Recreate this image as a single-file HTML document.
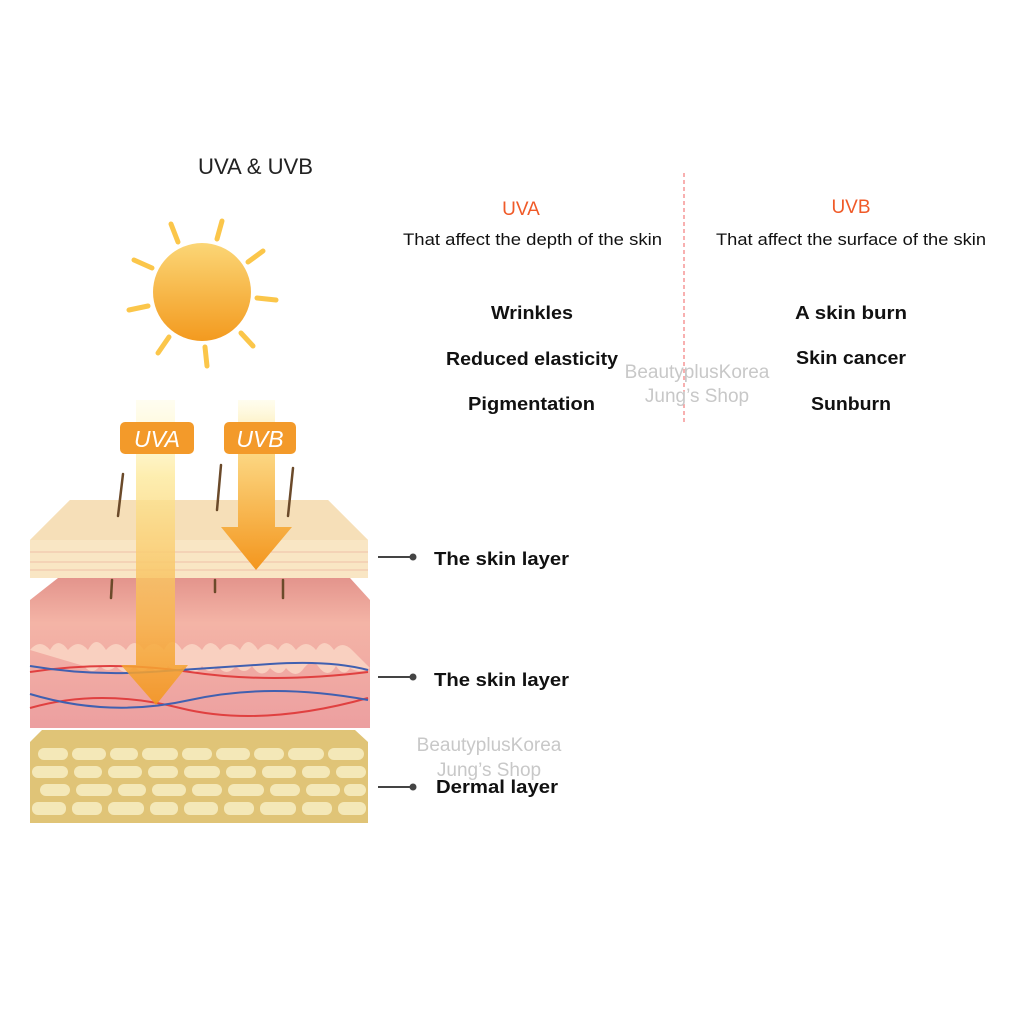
<!DOCTYPE html>
<html><head><meta charset="utf-8"><style>
html,body{margin:0;padding:0;background:#fff;}
svg{display:block;}
text{font-family:"Liberation Sans","DejaVu Sans",sans-serif;}
</style></head><body>
<svg width="1023" height="1023" viewBox="0 0 1023 1023" xmlns="http://www.w3.org/2000/svg">
<defs>
<linearGradient id="sun" x1="0" y1="0" x2="0" y2="1"><stop offset="0" stop-color="#fbd676"/><stop offset="1" stop-color="#f39a1f"/></linearGradient>
<linearGradient id="beam" x1="0" y1="0" x2="0" y2="1"><stop offset="0" stop-color="#fff9c8" stop-opacity="0.3"/><stop offset="0.25" stop-color="#fde99a" stop-opacity="0.9"/><stop offset="1" stop-color="#f3961e"/></linearGradient>
<linearGradient id="beamB" x1="0" y1="0" x2="0" y2="1"><stop offset="0" stop-color="#fff9c8" stop-opacity="0.3"/><stop offset="0.3" stop-color="#fcd884"/><stop offset="1" stop-color="#f3961e"/></linearGradient>
<linearGradient id="pink" x1="0" y1="0" x2="0" y2="1"><stop offset="0" stop-color="#e3948c"/><stop offset="0.3" stop-color="#f4b4a6"/><stop offset="1" stop-color="#ec9fa0"/></linearGradient>
</defs>

<!-- title -->
<text x="198" y="174" font-size="22" fill="#222" textLength="115" lengthAdjust="spacingAndGlyphs">UVA &amp; UVB</text>

<!-- sun -->
<g stroke="#fbc64a" stroke-width="5" stroke-linecap="round">
<line x1="171" y1="224" x2="178" y2="242"/><line x1="222" y1="221" x2="217" y2="239"/>
<line x1="263" y1="251" x2="248" y2="262"/><line x1="276" y1="300" x2="257" y2="298"/>
<line x1="253" y1="346" x2="241" y2="333"/><line x1="207" y1="366" x2="205" y2="347"/>
<line x1="158" y1="353" x2="169" y2="337"/><line x1="129" y1="310" x2="148" y2="306"/>
<line x1="134" y1="260" x2="152" y2="268"/>
</g>
<circle cx="202" cy="292" r="49" fill="url(#sun)"/>

<!-- fat layer -->
<polygon points="42,730 355,730 368,742 368,823 30,823 30,742" fill="#e0c477"/>
<g fill="#f4e8b8">
<rect x="38" y="748" width="30" height="12" rx="6"/><rect x="72" y="748" width="34" height="12" rx="6"/><rect x="110" y="748" width="28" height="12" rx="6"/><rect x="142" y="748" width="36" height="12" rx="6"/><rect x="182" y="748" width="30" height="12" rx="6"/><rect x="216" y="748" width="34" height="12" rx="6"/><rect x="254" y="748" width="30" height="12" rx="6"/><rect x="288" y="748" width="36" height="12" rx="6"/><rect x="328" y="748" width="36" height="12" rx="6"/>
<rect x="32" y="766" width="36" height="12" rx="6"/><rect x="74" y="766" width="28" height="12" rx="6"/><rect x="108" y="766" width="34" height="12" rx="6"/><rect x="148" y="766" width="30" height="12" rx="6"/><rect x="184" y="766" width="36" height="12" rx="6"/><rect x="226" y="766" width="30" height="12" rx="6"/><rect x="262" y="766" width="34" height="12" rx="6"/><rect x="302" y="766" width="28" height="12" rx="6"/><rect x="336" y="766" width="30" height="12" rx="6"/>
<rect x="40" y="784" width="30" height="12" rx="6"/><rect x="76" y="784" width="36" height="12" rx="6"/><rect x="118" y="784" width="28" height="12" rx="6"/><rect x="152" y="784" width="34" height="12" rx="6"/><rect x="192" y="784" width="30" height="12" rx="6"/><rect x="228" y="784" width="36" height="12" rx="6"/><rect x="270" y="784" width="30" height="12" rx="6"/><rect x="306" y="784" width="34" height="12" rx="6"/><rect x="344" y="784" width="22" height="12" rx="6"/>
<rect x="32" y="802" width="34" height="13" rx="6"/><rect x="72" y="802" width="30" height="13" rx="6"/><rect x="108" y="802" width="36" height="13" rx="6"/><rect x="150" y="802" width="28" height="13" rx="6"/><rect x="184" y="802" width="34" height="13" rx="6"/><rect x="224" y="802" width="30" height="13" rx="6"/><rect x="260" y="802" width="36" height="13" rx="6"/><rect x="302" y="802" width="30" height="13" rx="6"/><rect x="338" y="802" width="28" height="13" rx="6"/>
</g>

<!-- pink dermis -->
<polygon points="58,578 350,578 370,600 370,728 30,728 30,600" fill="url(#pink)"/>
<path d="M30,650 q10,-12 20,0 q8,-14 18,0 q10,-12 20,0 q8,-16 18,0 q10,-12 20,0 q8,-14 18,0 q10,-12 20,0 q8,-16 18,0 q10,-12 20,0 q8,-14 18,0 q10,-12 20,0 q8,-16 18,0 q10,-12 20,0 q8,-14 18,0 q10,-12 20,0 q8,-14 18,0 q8,-10 18,0 L370,668 q-10,6 -20,0 q-6,10 -14,-2 q-8,14 -18,0 q-6,-8 -14,2 q-8,12 -18,0 q-6,10 -16,0 q-8,12 -18,-2 q-8,10 -16,0 q-10,12 -18,0 q-8,10 -16,0 q-8,12 -18,0 q-8,8 -16,0 q-8,12 -18,0 q-8,10 -16,0 q-8,12 -18,0 q-8,8 -16,0 q-8,10 -16,0 Z" fill="#f9d0c0"/>
<g fill="none" stroke-width="2">
<path d="M30,672 q80,-12 160,0 t178,0" stroke="#e04040"/>
<path d="M30,666 q60,10 120,6 t120,-8 t98,6" stroke="#4060b0"/>
<path d="M30,708 q70,-20 150,0 t188,-10" stroke="#e04040"/>
<path d="M30,694 q80,24 160,6 t178,0" stroke="#4060b0"/>
</g>

<!-- top skin -->
<polygon points="70,500 328,500 368,540 368,578 30,578 30,540" fill="#f9e6c4"/>
<polygon points="70,500 328,500 368,540 30,540" fill="#f6dfb8"/>
<g stroke="#f0c0a8" stroke-width="1"><line x1="30" y1="552" x2="368" y2="552"/><line x1="30" y1="562" x2="368" y2="562"/><line x1="30" y1="570" x2="368" y2="570"/></g>
<g stroke="#6b4a2a" stroke-width="2.5" stroke-linecap="round">
<line x1="123" y1="474" x2="118" y2="516"/><line x1="221" y1="465" x2="217" y2="510"/><line x1="293" y1="468" x2="288" y2="516"/>
<line x1="112" y1="580" x2="111" y2="598"/><line x1="215" y1="580" x2="215" y2="592"/><line x1="283" y1="580" x2="283" y2="598"/>
</g>

<!-- beams -->
<polygon points="136,400 175,400 175,665 188,665 156,705 121,665 136,665" fill="url(#beam)" opacity="0.88"/>
<polygon points="238,400 275,400 275,527 292,527 256,570 221,527 238,527" fill="url(#beamB)"/>

<!-- badges -->
<rect x="120" y="422" width="74" height="32" rx="5" fill="#f39a2a"/>
<text x="157" y="447" font-size="23" fill="#fff" text-anchor="middle" font-style="italic">UVA</text>
<rect x="224" y="422" width="72" height="32" rx="5" fill="#f39a2a"/>
<text x="260" y="447" font-size="23" fill="#fff" text-anchor="middle" font-style="italic">UVB</text>

<!-- layer labels -->
<g stroke="#444" stroke-width="2"><line x1="378" y1="557" x2="412" y2="557"/><line x1="378" y1="677" x2="412" y2="677"/><line x1="378" y1="787" x2="412" y2="787"/></g>
<g fill="#444"><circle cx="413" cy="557" r="3.5"/><circle cx="413" cy="677" r="3.5"/><circle cx="413" cy="787" r="3.5"/></g>
<g font-size="18" font-weight="bold" fill="#111">
<text x="434" y="565" textLength="135" lengthAdjust="spacingAndGlyphs">The skin layer</text>
<text x="434" y="686" textLength="135" lengthAdjust="spacingAndGlyphs">The skin layer</text>
<text x="436" y="793" textLength="122" lengthAdjust="spacingAndGlyphs">Dermal layer</text>
</g>

<!-- table -->
<line x1="684" y1="173" x2="684" y2="423" stroke="#f06060" stroke-width="1" stroke-dasharray="4,3"/>
<text x="521" y="215" font-size="19" fill="#f05a28" text-anchor="middle">UVA</text>
<text x="851" y="213" font-size="19" fill="#f05a28" text-anchor="middle">UVB</text>
<text x="403" y="245" font-size="17" fill="#111" textLength="259" lengthAdjust="spacingAndGlyphs">That affect the depth of the skin</text>
<text x="716" y="245" font-size="17" fill="#111" textLength="270" lengthAdjust="spacingAndGlyphs">That affect the surface of the skin</text>
<g font-size="18" font-weight="bold" fill="#111">
<text x="491" y="319" textLength="82" lengthAdjust="spacingAndGlyphs">Wrinkles</text>
<text x="446" y="365" textLength="172" lengthAdjust="spacingAndGlyphs">Reduced elasticity</text>
<text x="468" y="410" textLength="127" lengthAdjust="spacingAndGlyphs">Pigmentation</text>
<text x="795" y="319" textLength="112" lengthAdjust="spacingAndGlyphs">A skin burn</text>
<text x="796" y="364" textLength="110" lengthAdjust="spacingAndGlyphs">Skin cancer</text>
<text x="811" y="410" textLength="80" lengthAdjust="spacingAndGlyphs">Sunburn</text>
</g>

<!-- watermarks -->
<g font-size="19" fill="#c8c8c8" text-anchor="middle">
<text x="697" y="378">BeautyplusKorea</text>
<text x="697" y="402">Jung’s Shop</text>
<text x="489" y="751">BeautyplusKorea</text>
<text x="489" y="776">Jung’s Shop</text>
</g>
</svg>
</body></html>
